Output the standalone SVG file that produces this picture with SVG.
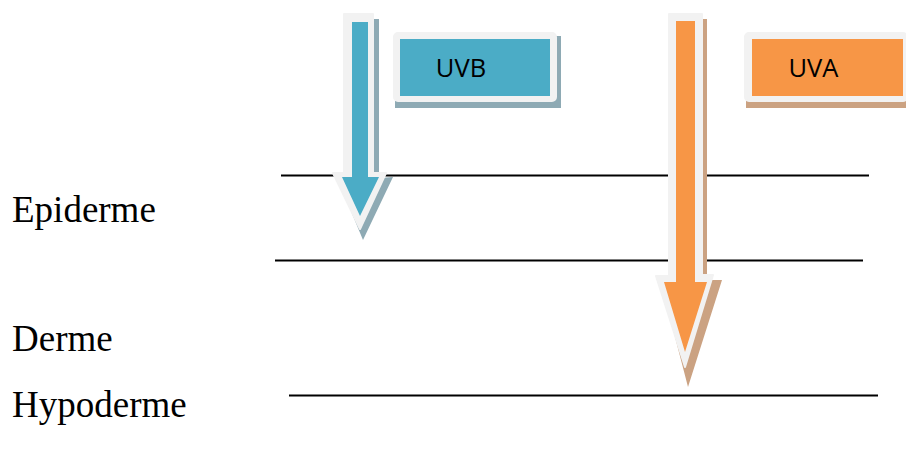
<svg xmlns="http://www.w3.org/2000/svg" width="906" height="455" viewBox="0 0 906 455">
<style>
.layer{font-family:"Liberation Serif","Times New Roman",serif;font-size:37px;fill:#000}
.lbl{font-family:"Open Sans","Noto Sans",sans-serif;font-size:25.5px;fill:#000;text-anchor:middle}
.ln{stroke:#000;stroke-width:2;fill:none}
.rim{fill:#f2f2f2;stroke:#f2f2f2;stroke-width:2;stroke-linejoin:round}
.bshadow{fill:#8eaab4}
.oshadow{fill:#cba282}
.blue{fill:#4bacc6}
.orange{fill:#f79646}
</style>
<rect width="906" height="455" fill="#fff"/>
<g id="connectors">
<line class="ln" x1="281" y1="175.5" x2="869" y2="175.5"/>
<line class="ln" x1="275" y1="260.5" x2="863" y2="260.5"/>
<line class="ln" x1="289" y1="395.5" x2="878" y2="395.5"/>
</g>
<g id="epiderme"><text class="layer" x="12" y="222">Epiderme</text></g>
<g id="derme"><text class="layer" x="12" y="351">Derme</text></g>
<g id="hypoderme"><text class="layer" x="12" y="416.5">Hypoderme</text></g>
<g id="uvb-arrow">
<polygon class="bshadow" points="348,19 379,19 379,178 393,177 363,240 338,180 348,180"/>
<polygon class="rim" points="344,14 373,14 373,173 386,173 360,229 333,173 344,173"/>
<polygon class="blue" points="352,22 368,22 368,177 379,177 360,216 342,177 352,177"/>
</g>
<g id="uvb-box">
<rect class="bshadow" x="395" y="36" width="166" height="72"/>
<rect class="rim" x="394" y="33" width="162" height="68" rx="4"/>
<rect class="blue" x="400" y="39" width="150" height="57"/>
<text class="lbl" x="461" y="77">UVB</text>
</g>
<g id="uva-arrow">
<polygon class="oshadow" points="673,19 707,19 707,280 722,280 688,387 661,283 673,283"/>
<polygon class="rim" points="669,14 702,14 702,275 713,275 685,367 656,276 669,276"/>
<polygon class="orange" points="676,21 695,21 695,282 707,282 685,352 664,282 676,282"/>
</g>
<g id="uva-box">
<rect class="oshadow" x="746" y="36" width="162" height="72"/>
<rect class="rim" x="745" y="33" width="162" height="68" rx="4"/>
<rect class="orange" x="752" y="39" width="151" height="57"/>
<text class="lbl" x="813.5" y="77">UVA</text>
</g>
</svg>
